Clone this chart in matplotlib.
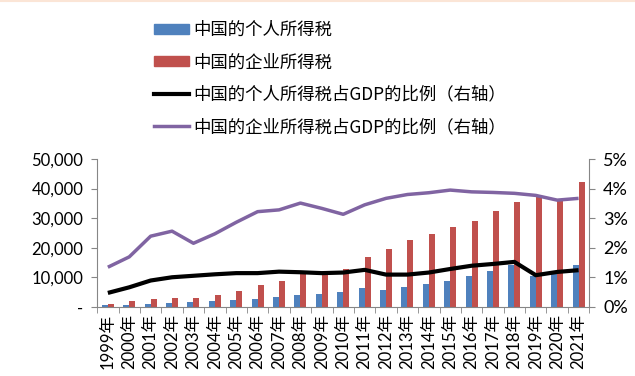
import matplotlib.pyplot as plt
import numpy as np
from matplotlib.patches import Patch
from matplotlib.lines import Line2D

plt.rcParams['font.family'] = ['Lato', 'Noto Sans CJK SC', 'DejaVu Sans']

years = [str(y) + "年" for y in range(1999, 2022)]
# 个人所得税 / 企业所得税 (亿元)
personal_tax = [450, 700, 1100, 1240, 1500, 1850, 2140, 2550, 3250, 3900, 4250,
                4950, 6200, 5850, 6600, 7600, 8650, 10300, 12000, 14000, 10400, 11200, 14000]
corporate_tax = [1100, 1800, 2800, 3150, 2850, 4150, 5500, 7300, 8900, 11200, 11500,
                 12900, 16700, 19700, 22500, 24800, 27100, 28900, 32300, 35400, 37200, 36300, 42100]
# 占GDP的比例 (%)
personal_pct = [0.47, 0.66, 0.89, 1.00, 1.05, 1.10, 1.14, 1.14, 1.19, 1.17, 1.14,
                1.16, 1.25, 1.09, 1.09, 1.16, 1.28, 1.39, 1.45, 1.52, 1.07, 1.18, 1.24]
corporate_pct = [1.34, 1.69, 2.39, 2.56, 2.15, 2.47, 2.86, 3.22, 3.28, 3.51, 3.33,
                 3.13, 3.45, 3.67, 3.80, 3.86, 3.95, 3.89, 3.87, 3.84, 3.77, 3.61, 3.67]

blue = "#4F81BD"
red = "#C0504D"
purple = "#8064A2"
axis_gray = "#868686"
fs = 12

fig = plt.figure(figsize=(6.35, 3.76), dpi=100)
ax = fig.add_axes([0.153, 0.184, 0.775, 0.393])
x = np.arange(len(years))
w = 0.28
ax.bar(x - w / 2, personal_tax, width=w, color=blue)
ax.bar(x + w / 2, corporate_tax, width=w, color=red)
ax.set_xlim(-0.5, len(years) - 0.5)
ax.set_ylim(0, 50000)
ax.set_yticks(range(0, 50001, 10000))
ax.set_yticklabels(["-", "10,000", "20,000", "30,000", "40,000", "50,000"], fontsize=fs)
ax.set_xticks(x)
ax.set_xticklabels(years, rotation=90, fontsize=fs)
ax.set_xticks(np.arange(-0.5, len(years), 1), minor=True)
ax.tick_params(axis='x', which='major', length=0, pad=5)
ax.tick_params(axis='x', which='minor', length=4, color=axis_gray)
ax.tick_params(axis='y', length=4, color=axis_gray, pad=6)

ax2 = ax.twinx()
ax2.plot(x, personal_pct, color="black", lw=3, solid_capstyle='butt')
ax2.plot(x, corporate_pct, color=purple, lw=2.5, solid_capstyle='butt')
ax2.set_ylim(0, 5)
ax2.set_yticks(range(0, 6))
ax2.set_yticklabels([f"{i}%" for i in range(6)], fontsize=fs + 1)
ax2.tick_params(axis='y', length=4, color=axis_gray, pad=6)

for a in (ax, ax2):
    a.spines['top'].set_visible(False)
    for s in ('left', 'right', 'bottom'):
        a.spines[s].set_color(axis_gray)
ax.spines['right'].set_visible(False)
ax2.spines['left'].set_visible(False)
ax2.spines['bottom'].set_visible(False)

handles = [Patch(color=blue), Patch(color=red),
           Line2D([], [], color="black", lw=3), Line2D([], [], color=purple, lw=2.5)]
labels = ["中国的个人所得税", "中国的企业所得税",
          "中国的个人所得税占GDP的比例（右轴）", "中国的企业所得税占GDP的比例（右轴）"]
fig.legend(handles, labels, loc="upper left", bbox_to_anchor=(0.232, 0.962),
           frameon=False, handlelength=2.0, handleheight=0.5,
           labelspacing=0.82, handletextpad=0.25, borderaxespad=0,
           prop={'family': ['Noto Sans CJK SC', 'DejaVu Sans'], 'size': 12.5})

fig.add_artist(Line2D([0, 1], [0.998, 0.998], color="#FBE5D6", lw=1.5))

fig.savefig("out.png", dpi=100)
